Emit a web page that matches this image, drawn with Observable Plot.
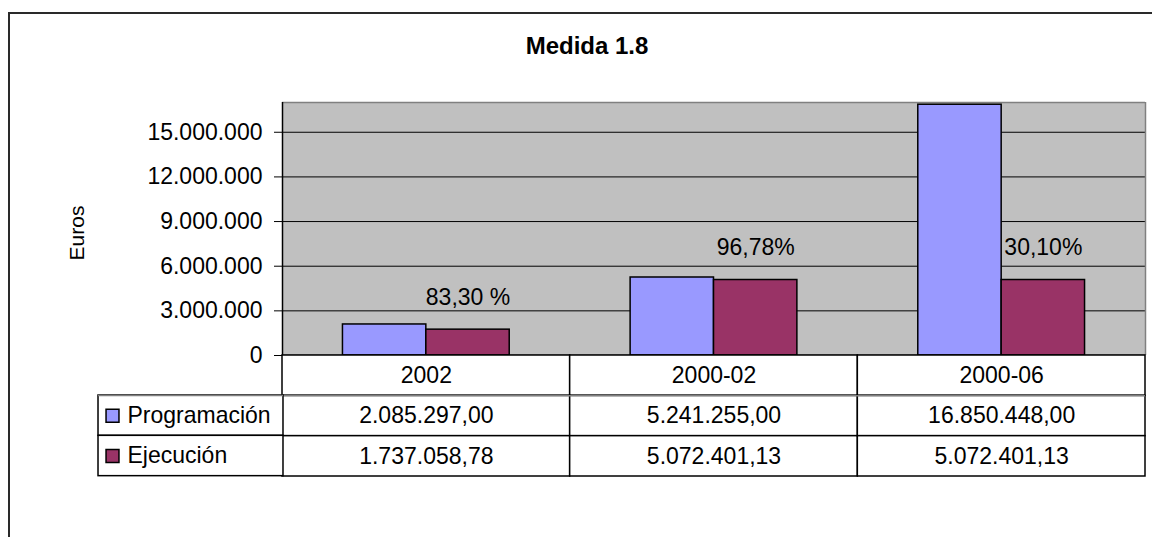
<!DOCTYPE html>
<html>
<head>
<meta charset="utf-8">
<script src="https://cdn.jsdelivr.net/npm/d3@7"></script>
<script src="https://cdn.jsdelivr.net/npm/@observablehq/plot@0.6"></script>
<style>
  body { margin: 0; background: #fff; font-family: "Liberation Sans", Arial, sans-serif; }
  #wrap { position: relative; width: 1152px; height: 537px; overflow: hidden; background: #fff; }
  #wrap svg { position: absolute; }
  .bt { position: absolute; left: 8px; top: 12px; width: 1144px; height: 2px; background: #2a2a2a; }
  .bl { position: absolute; left: 8px; top: 12px; width: 2px; height: 525px; background: #2a2a2a; }
  #title { position: absolute; left: 0; width: 1174px; top: 34px; text-align: center;
           font-weight: bold; font-size: 24px; line-height: 24px; color: #000; }
</style>
</head>
<body>
<div id="wrap"></div>
<script>
// ---- data ----
const title = "Medida 1.8";
const categories = ["2002", "2000-02", "2000-06"];
const series = ["Programación", "Ejecución"];
const programacion = [2085297.00, 5241255.00, 16850448.00];
const ejecucion = [1737058.78, 5072401.13, 5072401.13];
const porcentajes = ["83,30 %", "96,78%", "30,10%"];
const seriesColors = ["#9999ff", "#993366"];
const yTicks = [0, 3000000, 6000000, 9000000, 12000000, 15000000];
const yMax = 17000000;
const yLabel = "Euros";

// ---- formatting (Spanish locale) ----
const es = d3.formatLocale({decimal: ",", thousands: ".", grouping: [3], currency: ["", " €"]});
const fmtInt = es.format(",.0f");
const fmtDec = es.format(",.2f");

const rows = categories.flatMap((c, i) => [
  {category: c, serie: series[0], value: programacion[i]},
  {category: c, serie: series[1], value: ejecucion[i]}
]);
const labelRows = categories.map((c, i) => ({category: c, value: ejecucion[i], label: porcentajes[i]}));
const headerKey = "cat";
const rowKeys = [headerKey, ...series];
const cells = [
  ...categories.map(c => ({col: c, row: headerKey, text: c})),
  ...rows.map(r => ({col: r.category, row: r.serie, text: fmtDec(r.value)}))
];

// ---- layout ----
const W = 1152, mL = 282, mR = 7, mT = 102, plotBottom = 355;
const gapWidth = 1.45; // Excel-like gap between groups, relative to bar width
const band = (W - mL - mR) / categories.length;
const barW = band / (series.length + gapWidth);
const outer = barW * gapWidth / 2;
const font = "'Liberation Sans', Arial, sans-serif";
const baseStyle = {background: "transparent", fontFamily: font, fontSize: "23px", color: "#000", overflow: "visible"};
const colorScale = {domain: series, range: seriesColors};

const wrap = document.getElementById("wrap");

// ---- chart ----
const chart = Plot.plot({
  width: W, height: 537,
  marginLeft: mL, marginRight: mR, marginTop: mT, marginBottom: 537 - plotBottom,
  style: baseStyle,
  x: {domain: categories, padding: 0, round: false, axis: null},
  y: {domain: [0, yMax], ticks: yTicks, tickFormat: fmtInt, tickSize: 8, tickPadding: 12, label: null},
  color: colorScale,
  marks: [
    Plot.frame({fill: "#c0c0c0"}),
    Plot.ruleY(yTicks.filter(t => t > 0), {stroke: "#000", strokeWidth: 1}),
    Plot.ruleY([yMax], {stroke: "#808080", strokeWidth: 1.5}),
    Plot.ruleX([categories[categories.length - 1]], {y1: 0, y2: yMax, dx: band / 2, stroke: "#808080", strokeWidth: 1.5}),
    ...series.map((s, j) => Plot.barY(rows.filter(r => r.serie === s), {
      x: "category", y: "value", fill: "serie", stroke: "#000", strokeWidth: 1.5,
      insetLeft: outer + j * barW, insetRight: outer + (series.length - 1 - j) * barW
    })),
    Plot.text(labelRows, {x: "category", y: "value", text: "label", dx: barW / 2, dy: -32, fontSize: 23, fill: "#000"}),
    Plot.ruleX([categories[0]], {y1: 0, y2: yMax, dx: -band / 2, stroke: "#000", strokeWidth: 1.5}),
    Plot.ruleY([0], {stroke: "#000", strokeWidth: 1.5}),
    Plot.text([yLabel], {frameAnchor: "left", textAnchor: "middle", rotate: -90, dx: -205, dy: 4, fontSize: 21, fill: "#000"})
  ]
});
chart.style.left = "0px"; chart.style.top = "0px";
wrap.appendChild(chart);

// ---- data table ----
const tMT = 1, tMB = 2, tH = 124;
const rowH = (tH - tMT - tMB) / rowKeys.length;
const table = Plot.plot({
  width: W, height: tH,
  marginLeft: mL, marginRight: mR, marginTop: tMT, marginBottom: tMB,
  style: baseStyle,
  x: {domain: categories, padding: 0, round: false, axis: null},
  y: {domain: rowKeys, padding: 0, round: false, axis: null},
  marks: [
    Plot.cell(cells, {x: "col", y: "row", fill: "#fff", stroke: "#000", strokeWidth: 1.5}),
    Plot.ruleY([series[0]], {dy: -rowH / 2, stroke: "#808080", strokeWidth: 1.5}),
    Plot.text(cells, {x: "col", y: "row", text: "text", fontSize: 23, fill: "#000"})
  ]
});
table.style.left = "0px"; table.style.top = (plotBottom - tMT) + "px";
wrap.appendChild(table);

// ---- legend column of the table ----
const legLeft = 97, legRight = 282;
const legend = Plot.plot({
  width: legRight - legLeft + 1, height: 2 * rowH + tMT + tMB,
  marginLeft: 1, marginRight: 0, marginTop: tMT, marginBottom: tMB,
  style: baseStyle,
  y: {domain: series, padding: 0, round: false, axis: null},
  color: colorScale,
  marks: [
    Plot.cell(series, {y: d => d, fill: "#fff", stroke: "#000", strokeWidth: 1.5}),
    Plot.ruleY([series[0]], {y: d => d, dy: -rowH / 2, stroke: "#808080", strokeWidth: 1.5}),
    Plot.dot(series, {y: d => d, frameAnchor: "left", dx: 14, symbol: "square", r: 7.3, fill: d => d, stroke: "#000", strokeWidth: 1.5}),
    Plot.text(series, {y: d => d, text: d => d, frameAnchor: "left", textAnchor: "start", dx: 29, fontSize: 23, fill: "#000"})
  ]
});
legend.style.left = legLeft + "px"; legend.style.top = (plotBottom + rowH - tMT) + "px";
wrap.appendChild(legend);

// ---- title and outer border ----
const t = document.createElement("div");
t.id = "title"; t.textContent = title;
wrap.appendChild(t);
for (const cls of ["bt", "bl"]) {
  const d = document.createElement("div"); d.className = cls; wrap.appendChild(d);
}
</script>
</body>
</html>
